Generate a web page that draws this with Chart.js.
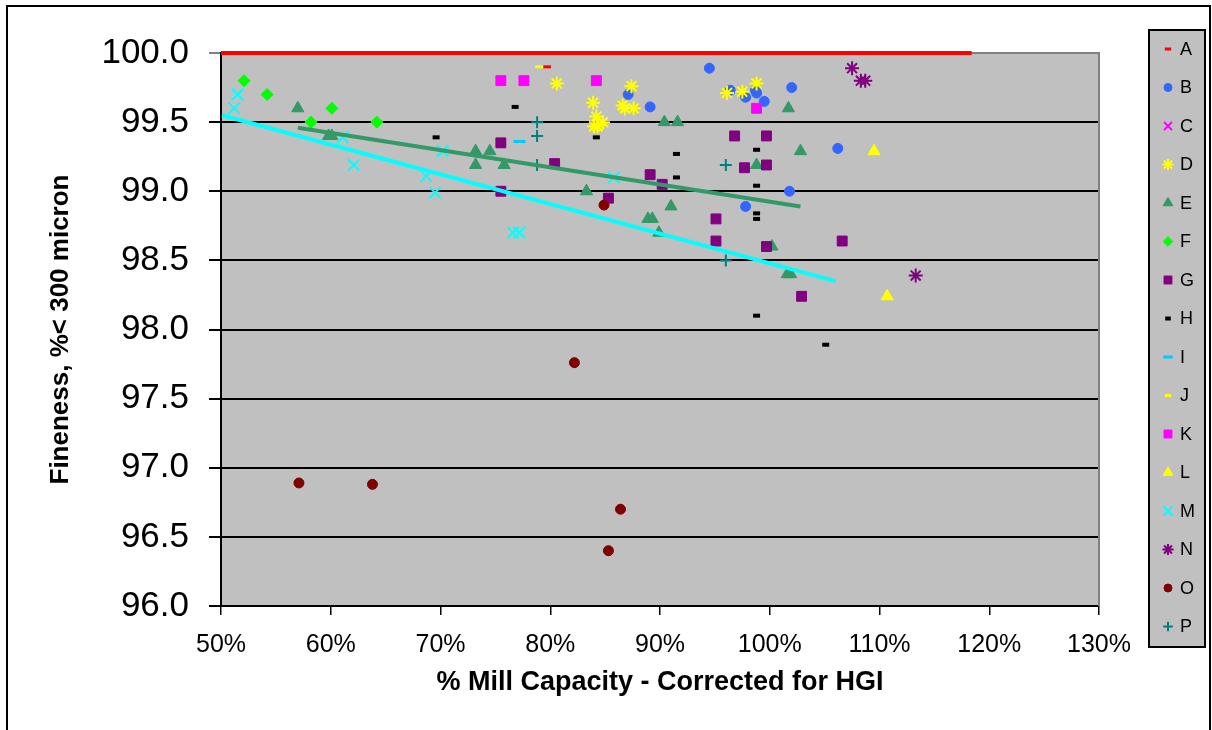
<!DOCTYPE html>
<html>
<head>
<meta charset="utf-8">
<script src="https://cdn.jsdelivr.net/npm/chart.js@4/dist/chart.umd.min.js"></script>
<style>
    html, body { margin: 0; padding: 0; background: #fff; }
</style>
</head>
<body>
<canvas id="millChart" width="1212" height="730"></canvas>
<script>
// Tick labels
const xTickLabels = ['50%', '60%', '70%', '80%', '90%', '100%', '110%', '120%', '130%'];
const yTickLabels = ['96.0', '96.5', '97.0', '97.5', '98.0', '98.5', '99.0', '99.5', '100.0'];

// Series values: [% mill capacity, fineness]
const seriesA = [[50.5, 100], [58.6, 100], [64.5, 100], [68.4, 100], [77.6, 100], [79.7, 99.9], [81.6, 100], [89.3, 100], [98.5, 100]];
const seriesB = [[94.5, 99.89], [87.1, 99.70], [89.1, 99.61], [96.4, 99.73], [97.8, 99.68], [98.8, 99.71], [98.7, 99.73], [99.5, 99.65],
                 [102.0, 99.75], [101.8, 99.00], [97.8, 98.89], [106.2, 99.31]];
const seriesC = [];
const seriesD = [[80.6, 99.78], [87.4, 99.76], [83.9, 99.64], [86.6, 99.62], [86.8, 99.60], [87.6, 99.60], [84.2, 99.54],
                 [84.8, 99.50], [84.0, 99.47], [84.3, 99.47], [96.1, 99.71], [97.5, 99.72], [98.8, 99.78]];
const seriesE = [[57.0, 99.60], [59.8, 99.40], [60.1, 99.40], [73.2, 99.29], [74.5, 99.29], [73.2, 99.19], [75.8, 99.19],
                 [90.4, 99.50], [91.6, 99.50], [101.7, 99.60], [83.3, 99.00], [98.8, 99.19], [102.8, 99.29], [91.0, 98.89],
                 [88.9, 98.80], [89.3, 98.80], [89.9, 98.70], [100.2, 98.60], [101.6, 98.40], [101.9, 98.40]];
const seriesF = [[52.1, 99.80], [54.2, 99.70], [60.1, 99.60], [58.2, 99.50], [64.2, 99.50]];
const seriesG = [[75.5, 99.35], [75.5, 99.00], [80.4, 99.20], [89.1, 99.12], [90.2, 99.05], [85.3, 98.95], [96.8, 99.40],
                 [99.7, 99.40], [97.7, 99.17], [99.7, 99.19], [95.1, 98.80], [95.1, 98.64], [99.7, 98.60], [102.9, 98.24], [106.6, 98.64]];
const seriesH = [[69.6, 99.39], [76.8, 99.61], [84.2, 99.39], [91.5, 99.27], [91.5, 99.10], [98.8, 99.30], [98.8, 99.04],
                 [98.8, 98.84], [98.8, 98.80], [98.8, 98.10], [105.1, 97.89]];
const seriesI = [[77.2, 99.36]];
const seriesJ = [[79.0, 99.90]];
const seriesK = [[75.5, 99.80], [77.6, 99.80], [84.2, 99.80], [98.8, 99.60]];
const seriesL = [[109.5, 99.29], [110.7, 98.24]];
const seriesM = [[51.5, 99.70], [51.2, 99.60], [61.1, 99.39], [62.1, 99.19], [70.2, 99.29], [68.7, 99.11], [69.5, 98.99],
                 [85.8, 99.10], [76.6, 98.70], [77.2, 98.70]];
const seriesN = [[107.5, 99.89], [108.3, 99.80], [108.7, 99.80], [113.3, 98.39]];
const seriesO = [[57.1, 96.89], [63.8, 96.88], [86.4, 96.70], [85.3, 96.40], [82.2, 97.76], [84.9, 98.90]];
const seriesP = [[78.8, 99.50], [78.8, 99.40], [78.8, 99.19], [96.0, 99.19], [96.0, 98.50]];

// Trend lines, end points
const trendA = [[50.0, 100.0], [118.4, 100.0]];
const trendE = [[57.0, 99.46], [102.8, 98.89]];
const trendM = [[50.1, 99.55], [106.0, 98.35]];

function toPoints(list) {
    return list.map(p => ({ x: p[0], y: p[1] }));
}

// name, values, colour, point style, radius, border width
const seriesDefs = [
    ['A', seriesA, '#FF0000', 'line', 4, 3],
    ['B', seriesB, '#3366FF', 'circle', 5, 1],
    ['C', seriesC, '#FF00FF', 'crossRot', 7, 2],
    ['D', seriesD, '#FFFF00', 'star', 7, 2],
    ['E', seriesE, '#339966', 'triangle', 7, 1],
    ['F', seriesF, '#00FF00', 'rectRot', 6, 1],
    ['G', seriesG, '#800080', 'rect', 7, 1],
    ['H', seriesH, '#000000', 'line', 3.5, 4],
    ['I', seriesI, '#00CCFF', 'line', 6, 3],
    ['J', seriesJ, '#FFFF00', 'line', 4, 3],
    ['K', seriesK, '#FF00FF', 'rect', 7, 1],
    ['L', seriesL, '#FFFF00', 'triangle', 7, 1],
    ['M', seriesM, '#00FFFF', 'crossRot', 8, 2],
    ['N', seriesN, '#800080', 'star', 7, 2],
    ['O', seriesO, '#800000', 'circle', 5, 1],
    ['P', seriesP, '#008080', 'cross', 6, 2]
];

const datasets = seriesDefs.map((d, i) => ({
    label: d[0],
    data: toPoints(d[1]),
    showLine: false,
    clip: false,
    pointStyle: d[3],
    pointRadius: d[4],
    pointBorderWidth: d[5],
    backgroundColor: d[2],
    borderColor: d[2],
    pointBackgroundColor: d[2],
    pointBorderColor: d[2],
    legendIndex: i,
    order: 20 - i
}));

// trend lines go on top of the markers
[[trendA, '#FF0000'], [trendE, '#339966'], [trendM, '#00FFFF']].forEach(t => {
    datasets.push({
        label: '',
        data: toPoints(t[0]),
        showLine: true,
        clip: false,
        borderColor: t[1],
        borderWidth: 4,
        pointRadius: 0,
        fill: false,
        order: 0
    });
});

const FONT = "'Liberation Sans', Arial, sans-serif";

const frame = {
    id: 'frame',
    beforeDraw(chart) {
        const ctx = chart.ctx;
        const a = chart.chartArea;
        ctx.save();
        ctx.fillStyle = '#ffffff';
        ctx.fillRect(0, 0, chart.width, chart.height);
        ctx.strokeStyle = '#000';
        ctx.lineWidth = 2;
        ctx.strokeRect(7, 6, 1203, 740);
        ctx.fillStyle = '#C0C0C0';
        ctx.fillRect(a.left, a.top, a.right - a.left, a.bottom - a.top);
        ctx.restore();
    },
    beforeDatasetsDraw(chart) {
        const ctx = chart.ctx;
        const a = chart.chartArea;
        ctx.save();
        ctx.strokeStyle = '#808080';
        ctx.lineWidth = 2;
        ctx.beginPath();
        ctx.moveTo(a.left, a.top);
        ctx.lineTo(a.right, a.top);
        ctx.lineTo(a.right, a.bottom);
        ctx.stroke();
        ctx.restore();
    },
    afterDraw(chart) {
        // legend box on the right
        const ctx = chart.ctx;
        ctx.save();
        ctx.fillStyle = '#C0C0C0';
        ctx.fillRect(1149, 30, 56, 617);
        ctx.strokeStyle = '#000';
        ctx.lineWidth = 2;
        ctx.strokeRect(1149, 30, 56, 617);
        ctx.font = '18px ' + FONT;
        ctx.textBaseline = 'middle';
        ctx.textAlign = 'left';
        chart.data.datasets.forEach(ds => {
            if (ds.legendIndex === undefined) return;
            const y = 49 + ds.legendIndex * 38.5;
            ctx.fillStyle = ds.pointBackgroundColor;
            ctx.strokeStyle = ds.pointBorderColor;
            ctx.lineWidth = ds.pointBorderWidth;
            Chart.helpers.drawPoint(ctx, {
                pointStyle: ds.pointStyle,
                radius: ds.pointRadius * 0.8,
                borderWidth: ds.pointBorderWidth,
                rotation: 0
            }, 1168, y);
            ctx.fillStyle = '#000';
            ctx.fillText(ds.label, 1180, y + 1);
        });
        ctx.restore();
    }
};

new Chart(document.getElementById('millChart').getContext('2d'), {
    type: 'scatter',
    data: { datasets: datasets },
    options: {
        responsive: false,
        animation: false,
        layout: { padding: { left: 0, top: 53, right: 113, bottom: 0 } },
        plugins: {
            legend: { display: false },
            tooltip: { enabled: false }
        },
        scales: {
            x: {
                type: 'linear',
                min: 50,
                max: 130,
                afterFit: function (scale) { scale.height = 124; },
                afterBuildTicks: function (scale) {
                    scale.ticks = xTickLabels.map((t, i) => ({ value: 50 + i * 10 }));
                },
                ticks: {
                    color: '#000',
                    font: { family: FONT, size: 25 },
                    padding: 15,
                    maxRotation: 0,
                    callback: function (value, index) { return xTickLabels[index]; }
                },
                grid: { drawOnChartArea: false, drawTicks: true, tickLength: 9, color: '#000', lineWidth: 1.5 },
                border: { display: true, color: '#000', width: 2 },
                title: {
                    display: true,
                    text: '% Mill Capacity - Corrected for HGI',
                    color: '#000',
                    font: { family: FONT, size: 27, weight: 'bold' },
                    padding: { top: 0, bottom: 31 }
                }
            },
            y: {
                type: 'linear',
                min: 96,
                max: 100,
                afterFit: function (scale) { scale.width = 221; },
                afterBuildTicks: function (scale) {
                    scale.ticks = yTickLabels.map((t, i) => ({ value: 96 + i * 0.5 }));
                },
                ticks: {
                    color: '#000',
                    font: { family: FONT, size: 35 },
                    padding: 20,
                    callback: function (value, index) { return yTickLabels[index]; }
                },
                grid: {
                    drawTicks: true,
                    tickLength: 12,
                    lineWidth: 2,
                    color: function (c) { return c.tick && c.tick.value === 100 ? '#808080' : '#000'; }
                },
                border: { display: true, color: '#000', width: 2 },
                title: {
                    display: true,
                    text: 'Fineness, %< 300 micron',
                    color: '#000',
                    font: { family: FONT, size: 26, weight: 'bold' },
                    padding: { top: 45, bottom: 0 }
                }
            }
        }
    },
    plugins: [frame]
});
</script>
</body>
</html>
